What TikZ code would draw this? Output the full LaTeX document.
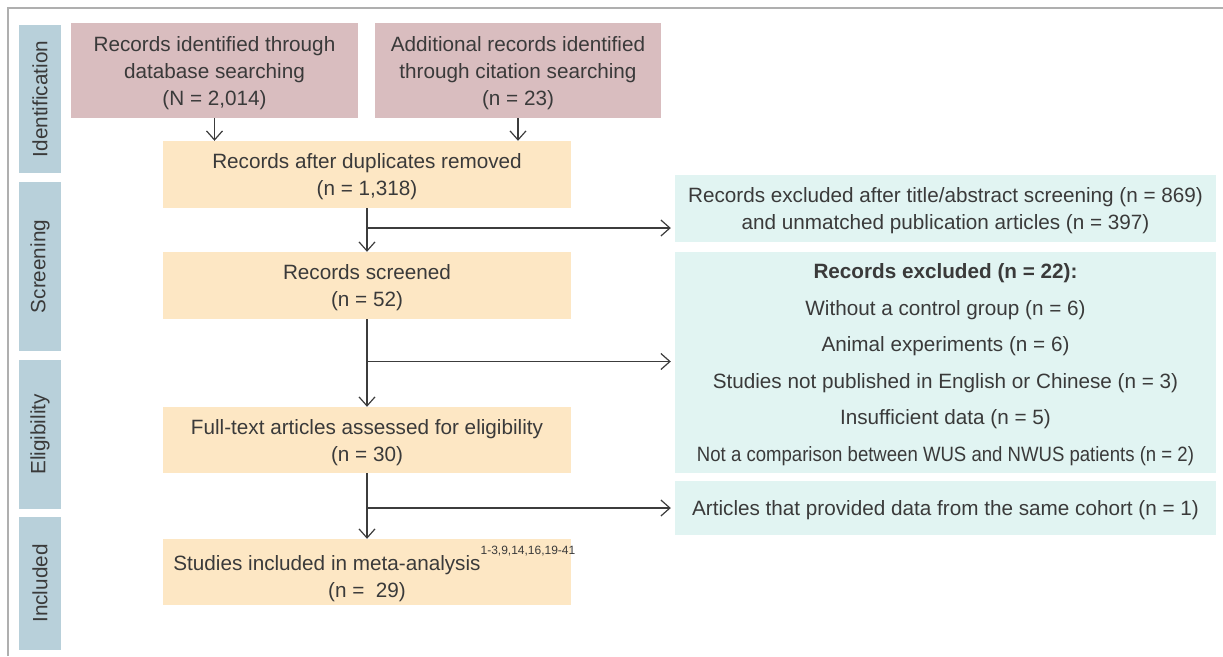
\documentclass[tikz,border=0pt]{standalone}
\usepackage{fontspec}
\setmainfont{Liberation Sans}
\usetikzlibrary{arrows.meta}
\definecolor{pinkf}{RGB}{217,189,191}
\definecolor{yellf}{RGB}{253,231,196}
\definecolor{cyanf}{RGB}{225,244,242}
\definecolor{sidef}{RGB}{184,208,218}
\definecolor{txt}{RGB}{58,58,58}
\definecolor{arrc}{RGB}{60,60,60}
\definecolor{framec}{RGB}{175,175,175}
\begin{document}
\begin{tikzpicture}[x=1pt,y=1pt,
  base/.style={inner sep=0pt, align=center, text=txt, font=\fontsize{20.7}{27}\selectfont},
  lowered/.style={text depth=-1pt},
  pinkbox/.style={base, lowered, fill=pinkf, minimum height=95pt},
  yellbox/.style={base, lowered, fill=yellf, minimum width=408pt},
  cyanbox/.style={base, lowered, fill=cyanf, minimum width=541pt},
  sidebar/.style={base, fill=sidef, rotate=90, minimum height=42pt, font=\fontsize{20.7}{24}\selectfont},
  arr/.style={draw=arrc, line width=1.2pt, -{Straight Barb[length=9pt,width=16pt,line width=1.2pt]}}
]
\useasboundingbox (0,0) rectangle (1223,-656);
\draw[framec, line width=1.5pt] (8,-656) -- (8,-8) -- (1223,-8);

% side bars
\node[sidebar, minimum width=148pt] (s1) at (40,-99) {Identification};
\node[sidebar, minimum width=169pt] (s2) at (40,-266.5) {Screening};
\node[sidebar, minimum width=149pt] (s3) at (40,-434.5) {Eligibility};
\node[sidebar, minimum width=133pt] (s4) at (40,-583.5) {Included};

% identification
\node[pinkbox, minimum width=287pt] (id1) at (214.5,-70.5) {Records identified through\\database searching\\(N = 2,014)};
\node[pinkbox, minimum width=286pt] (id2) at (518,-70.5) {Additional records identified\\through citation searching\\(n = 23)};

% main column
\node[yellbox, minimum height=67pt] (dup) at (367,-174.5) {Records after duplicates removed\\(n = 1,318)};
\node[yellbox, minimum height=67pt] (scr) at (367,-285.5) {Records screened\\(n = 52)};
\node[yellbox, minimum height=66pt] (ft) at (367,-440) {Full-text articles assessed for eligibility\\(n = 30)};
\node[yellbox, minimum height=66pt] (inc) at (367,-572) {Studies included in meta-analysis\rlap{\raisebox{16pt}{\fontsize{12}{13}\selectfont 1-3,9,14,16,19-41}}\hspace*{80pt}\\(n =\ \ 29)};

% exclusion boxes
\node[cyanbox, minimum height=67pt] (ex1) at (945.5,-208.5) {Records excluded after title/abstract screening (n = 869)\\and unmatched publication articles (n = 397)};
\node[cyanbox, minimum height=221pt, font=\fontsize{20.7}{36.6}\selectfont] (ex2) at (945.5,-362.5) {\textbf{Records excluded (n = 22):}\\Without a control group (n = 6)\\Animal experiments (n = 6)\\Studies not published in English or Chinese (n = 3)\\Insufficient data (n = 5)\\\resizebox{497pt}{\height}{Not a comparison between WUS and NWUS patients (n = 2)}};
\node[cyanbox, minimum height=54pt] (ex3) at (945.5,-508) {Articles that provided data from the same cohort (n = 1)};

% connectors
\draw[arr] (id1.south) -- (id1.south |- dup.north);
\draw[arr] (id2.south) -- (id2.south |- dup.north);

\coordinate (b1) at (367,-228);
\coordinate (b2) at (367,-361.5);
\coordinate (b3) at (367,-508);
\draw[arr] (dup.south) -- (scr.north);
\draw[arr] (b1) -- ([xshift=-4pt]b1 -| ex1.west);
\draw[arr] (scr.south) -- (ft.north);
\draw[arr] (b2) -- ([xshift=-4pt]b2 -| ex2.west);
\draw[arr] (ft.south) -- (inc.north);
\draw[arr] (b3) -- ([xshift=-4pt]b3 -| ex3.west);
\end{tikzpicture}
\end{document}
